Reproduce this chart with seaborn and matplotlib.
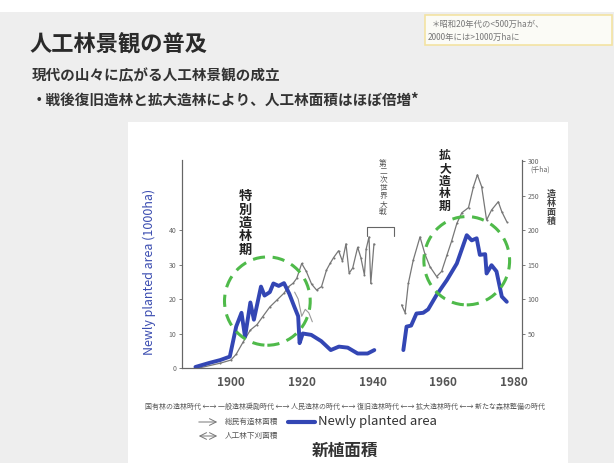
import seaborn as sns
import matplotlib.pyplot as plt
from matplotlib.patches import Ellipse, Rectangle

# newly planted area (1000ha), pre-war segment
blue_years_1 = [1890, 1894, 1897, 1899.7, 1901.5, 1903, 1904, 1905.5, 1906.5, 1908.5, 1909.5,
                1911, 1912, 1913.5, 1915, 1916.5, 1917.9, 1919, 1919.4, 1920.3, 1922.7,
                1925.5, 1928.2, 1930.5, 1933, 1935.8, 1938.6, 1940.5]
blue_vals_1 = [0.3, 1.5, 2.3, 3.3, 12, 16, 9, 19, 14, 23.6, 21,
               22, 24.5, 23.8, 24.6, 21.5, 17.8, 15, 7.2, 10, 9.6,
               7.8, 5.2, 6.2, 5.9, 4.2, 4.2, 5.2]
# newly planted area, post-war segment
blue_years_2 = [1948.7, 1949.6, 1950.9, 1952.4, 1954.3, 1955.7, 1958.1, 1961, 1963.8,
                1966.6, 1968, 1969.4, 1970.3, 1971.8, 1972.2, 1973.6, 1975, 1976.5, 1977.9]
blue_vals_2 = [5.2, 12, 12.3, 15.8, 16, 17, 21.2, 25.5, 30.3,
               38.5, 37, 37.6, 32.8, 33, 27.4, 29.8, 28, 20.7, 19.2]

# total afforestation (grey, thin with dots)
grey_years_1 = [1891, 1897, 1900, 1901.5, 1903.5, 1905.5, 1907.4, 1909, 1911, 1913, 1915,
                1916.2, 1917.6, 1918.6, 1920, 1921.3, 1922.8, 1924.2, 1925.6, 1927, 1928,
                1929, 1930.4, 1931.5, 1932.5, 1933.4, 1934.4, 1935.8, 1936.7, 1937.7,
                1938.2, 1939, 1939.5, 1940.4]
grey_vals_1 = [0, 1.4, 2.3, 4, 7.6, 11, 12.6, 14.9, 17.7, 19.7, 21.7,
               23.5, 24.6, 26, 30.3, 28, 24.3, 22.6, 23.6, 28.4, 30.3,
               32, 34, 31, 36, 27.5, 29, 35, 32, 27,
               34.5, 38, 24.5, 36]
grey_years_2 = [1948.2, 1949.2, 1950.1, 1951.5, 1953.4, 1954.8, 1956.2, 1958.1, 1959.5,
                1961, 1962.3, 1963.8, 1965.2, 1967.1, 1968.5, 1969.6, 1970.8, 1972.2,
                1973.6, 1975.5, 1976.5, 1977.9]
grey_vals_2 = [18.3, 16, 24.5, 31.3, 38, 33, 29.4, 26.5, 28,
               32.7, 36.7, 41.9, 45, 46.5, 52.6, 56, 52.6, 42.9,
               45.8, 48.2, 45.3, 42.4]
# second grey series (short piece around 1920)
grey_b_years = [1918, 1919, 1920, 1921, 1922, 1923]
grey_b_vals = [22, 20, 15, 17, 16, 13.4]

x_ticks = [1900, 1920, 1940, 1960, 1980]
left_ticks = [0, 10, 20, 30, 40]
right_ticks = [50, 100, 150, 200, 250, 300]

W, H = 614, 463


def fx(x):
    return x / W


def fy(y):
    return 1 - y / H


sns.set_theme(style="white")
plt.rcParams['font.family'] = ['Noto Sans CJK JP', 'DejaVu Sans']

fig = plt.figure(figsize=(6.14, 4.63), dpi=100)
fig.patch.set_facecolor('#eeeeee')
fig.add_artist(Rectangle((0, fy(12)), 1, 12 / H, transform=fig.transFigure,
                         facecolor='white', edgecolor='none', zorder=0))
fig.add_artist(Rectangle((fx(128), 0), (568 - 128) / W, (463 - 122) / H,
                         transform=fig.transFigure, facecolor='white', edgecolor='none', zorder=0))

# slide header
fig.text(fx(30), fy(45), "人工林景観の普及", fontsize=16, fontweight='bold', color='#2a2a2a', va='center')
fig.text(fx(32), fy(75), "現代の山々に広がる人工林景観の成立", fontsize=10.5, fontweight='bold',
         color='#333', va='center')
fig.text(fx(32), fy(100), "・戦後復旧造林と拡大造林により、人工林面積はほぼ倍増*", fontsize=10.5,
         fontweight='bold', color='#333', va='center')
fig.add_artist(Rectangle((fx(425), fy(45)), (612 - 425) / W, 30 / H, transform=fig.transFigure,
                         facecolor='#fbfbf6', edgecolor='#f3e3a2', lw=1.2, zorder=1))
fig.text(fx(432), fy(24), "＊昭和20年代の<500万haが、", fontsize=6, color='#777', va='center')
fig.text(fx(428), fy(37), "2000年には>1000万haに", fontsize=6, color='#777', va='center')

ax = fig.add_axes([fx(182), fy(368), 340 / W, 208 / H])
ax.set_facecolor('none')
ax2 = ax.twinx()

sns.lineplot(x=grey_years_1, y=grey_vals_1, ax=ax, color='#777777', linewidth=0.9,
             marker='.', markersize=3, markeredgewidth=0)
sns.lineplot(x=grey_years_2, y=grey_vals_2, ax=ax, color='#777777', linewidth=0.9,
             marker='.', markersize=3, markeredgewidth=0)
sns.lineplot(x=grey_b_years, y=grey_b_vals, ax=ax, color='#999999', linewidth=0.8)
sns.lineplot(x=blue_years_1, y=blue_vals_1, ax=ax, color='#3346b4', linewidth=2.8)
sns.lineplot(x=blue_years_2, y=blue_vals_2, ax=ax, color='#3346b4', linewidth=2.8)

ax.set_xlim(1886.2, 1982.2)
ax.set_ylim(0, 60.3)
ax2.set_ylim(0, 301.5)
ax.set_xticks(x_ticks)
ax.set_yticks(left_ticks)
ax2.set_yticks(right_ticks)
ax.tick_params(axis='x', bottom=True, length=0, pad=6, labelsize=8.5, labelcolor='#555')
ax.tick_params(axis='y', left=True, length=2, width=0.6, pad=2, labelsize=5, labelcolor='#666',
               color='#666')
ax2.tick_params(axis='y', right=True, length=2, width=0.6, pad=2, labelsize=5, labelcolor='#666',
                color='#666')
for t in ax.get_xticklabels():
    t.set_fontweight('bold')
for a in (ax, ax2):
    a.spines['top'].set_visible(False)
    for s in ('left', 'right', 'bottom'):
        a.spines[s].set_color('#666')
        a.spines[s].set_linewidth(0.8)
ax.set_ylabel("Newly planted area (1000ha)", fontsize=9, color='#3a4cb0')
ax.yaxis.set_label_coords(-0.075, 0.46)

# highlight circles
for cx, cy in [(1910.3, 19.4), (1966.6, 31.1)]:
    ax.add_patch(Ellipse((cx, cy), 24.2, 25.6, fill=False, edgecolor='#4fba4a', lw=2.2,
                         linestyle=(0, (4, 2.5)), zorder=5))

# war period bracket
ax.plot([1938.4, 1938.4, 1946, 1946], [38.2, 40.9, 40.9, 38.2], color='#666', lw=0.8,
        clip_on=False)

# vertical period labels
fig.text(fx(245), fy(223), "\n".join("特別造林期"), fontsize=9.5, fontweight='bold', color='#222',
         ha='center', va='center', linespacing=0.95)
fig.text(fx(445), fy(181), "\n".join("拡大造林期"), fontsize=8.5, fontweight='bold', color='#222',
         ha='center', va='center', linespacing=0.95)
fig.text(fx(383), fy(188), "\n".join("第二次世界大戦"), fontsize=5.5, color='#555',
         ha='center', va='center', linespacing=1.0)
fig.text(fx(530), fy(170), "(千ha)", fontsize=5, color='#666', ha='left', va='center')
fig.text(fx(551), fy(208), "\n".join("造林面積"), fontsize=6.5, fontweight='bold', color='#444',
         ha='center', va='center', linespacing=1.0)

# era strip and legend under the chart
fig.text(fx(345), fy(407),
         "国有林の造林時代 ←→ 一般造林奨励時代 ←→ 人民造林の時代 ←→ 復旧造林時代 ←→ 拡大造林時代 ←→ 新たな森林整備の時代",
         fontsize=5, color='#555', ha='center', va='center')
ax.annotate('', xy=(fx(220), fy(422)), xytext=(fx(196), fy(422)), xycoords='figure fraction',
            textcoords='figure fraction', arrowprops=dict(arrowstyle='->', color='#777', lw=0.7))
fig.text(fx(225), fy(422), "総民有造林面積", fontsize=5.5, color='#555', va='center')
ax.annotate('', xy=(fx(220), fy(436)), xytext=(fx(196), fy(436)), xycoords='figure fraction',
            textcoords='figure fraction', arrowprops=dict(arrowstyle='<->', color='#777', lw=0.7))
fig.text(fx(225), fy(436), "人工林下刈面積", fontsize=5.5, color='#555', va='center')
fig.add_artist(plt.Line2D([fx(288), fx(315)], [fy(422), fy(422)], color='#3346b4', lw=3,
                          transform=fig.transFigure))
fig.text(fx(318), fy(422), "Newly planted area", fontsize=9.5, color='#333', va='center')
fig.text(fx(345), fy(451), "新植面積", fontsize=12, fontweight='bold', color='#333',
         ha='center', va='center')

fig.savefig("out.png", dpi=100)
